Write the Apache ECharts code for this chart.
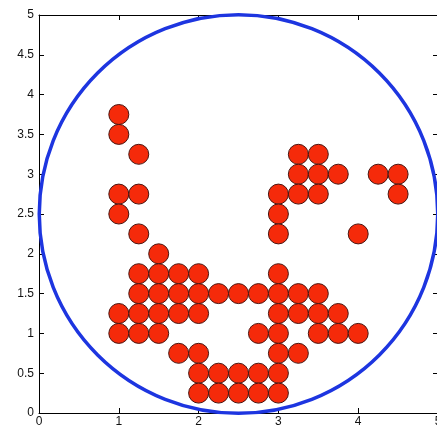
<!DOCTYPE html>
<html>
<head>
<meta charset="utf-8">
<script src="https://cdn.jsdelivr.net/npm/echarts@6/dist/echarts.min.js"></script>
<style>html,body{margin:0;padding:0;background:#fff;}#c{width:437px;height:428px;}</style>
</head>
<body>
<div id="c"></div>
<script>
// Tick labels
const xTicks = [0, 1, 2, 3, 4, 5];
const yTicks = [0, 0.5, 1, 1.5, 2, 2.5, 3, 3.5, 4, 4.5, 5];
// Circle: center x, center y, radius (data units)
const circleSpec = [2.5, 2.5, 2.5];
// Red dots, grouped by row (y value) with the x values in that row
const rowY = [3.75, 3.5, 3.25, 3.0, 2.75, 2.5, 2.25, 2.0, 1.75, 1.5, 1.25, 1.0, 0.75, 0.5, 0.25];
const rowX = [
  [1],
  [1],
  [1.25, 3.25, 3.5],
  [3.25, 3.5, 3.75, 4.25, 4.5],
  [1, 1.25, 3, 3.25, 3.5, 4.5],
  [1, 3],
  [1.25, 3, 4],
  [1.5],
  [1.25, 1.5, 1.75, 2, 3],
  [1.25, 1.5, 1.75, 2, 2.25, 2.5, 2.75, 3, 3.25, 3.5],
  [1, 1.25, 1.5, 1.75, 2, 3, 3.25, 3.5, 3.75],
  [1, 1.25, 1.5, 2.75, 3, 3.5, 3.75, 4],
  [1.75, 2, 3, 3.25],
  [2, 2.25, 2.5, 2.75, 3],
  [2, 2.25, 2.5, 2.75, 3]
];

const dots = [];
rowY.forEach((y, i) => rowX[i].forEach(x => dots.push([x, y])));

const chart = echarts.init(document.getElementById('c'), null, {renderer: 'canvas'});
const labelFont = {color: '#111', fontSize: 12, fontFamily: 'Liberation Sans, Arial, sans-serif'};
const baseAxis = {
  axisLine: {show: true, onZero: false, lineStyle: {color: '#000', width: 1}},
  axisTick: {show: true, inside: true, length: 5, lineStyle: {color: '#000'}},
  splitLine: {show: false}
};
chart.setOption({
  animation: false,
  backgroundColor: '#fff',
  grid: {left: 39, top: 15, width: 399, height: 398, containLabel: false, outerBoundsMode: 'none'},
  xAxis: [
    Object.assign({type: 'value', min: xTicks[0], max: xTicks[xTicks.length - 1], interval: 1, position: 'bottom',
      axisLabel: Object.assign({margin: 3, formatter: v => String(v)}, labelFont)}, baseAxis),
    Object.assign({type: 'value', min: xTicks[0], max: xTicks[xTicks.length - 1], interval: 1, position: 'top',
      axisLabel: {show: false}}, baseAxis)
  ],
  yAxis: [
    Object.assign({type: 'value', min: yTicks[0], max: yTicks[yTicks.length - 1], interval: 0.5, position: 'left',
      axisLabel: Object.assign({margin: 5, formatter: v => String(v)}, labelFont)}, baseAxis),
    Object.assign({type: 'value', min: yTicks[0], max: yTicks[yTicks.length - 1], interval: 0.5, position: 'right',
      axisLabel: {show: false}}, baseAxis)
  ],
  series: [
    {
      type: 'custom',
      data: [circleSpec],
      clip: false,
      renderItem: function (params, api) {
        const c = api.coord([api.value(0), api.value(1)]);
        const s = api.size([api.value(2), api.value(2)]);
        return {
          type: 'circle',
          shape: {cx: c[0], cy: c[1], r: (s[0] + s[1]) / 2},
          style: {fill: null, stroke: '#1d35e0', lineWidth: 3.5}
        };
      },
      z: 1
    },
    {
      type: 'scatter',
      data: dots,
      symbol: 'circle',
      symbolSize: 20,
      itemStyle: {color: '#f52a0a', borderColor: '#4a1510', borderWidth: 1, opacity: 1},
      z: 2
    }
  ]
});
</script>
</body>
</html>
